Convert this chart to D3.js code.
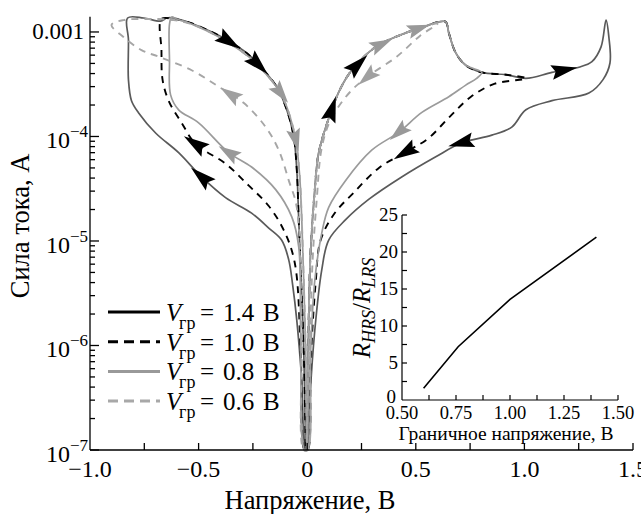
<!DOCTYPE html>
<html>
<head>
<meta charset="utf-8">
<script src="https://cdn.jsdelivr.net/npm/d3@7"></script>
<style>
  body { margin: 0; background: #fff; }
  svg { display: block; }
</style>
</head>
<body>
<svg id="chart" width="641" height="514" font-family="'Liberation Serif', Tinos, 'Times New Roman', 'DejaVu Serif', serif"></svg>
<script>
// ---- I–V data: [voltage, V ; current, A], in sweep order ----
// low-resistance branch for positive bias, common to every sweep
const lrsPos = [[0.001,1.0e-7],[0.007,1.75e-6],[0.016,8.2e-6],[0.035,3.1e-5],[0.053,7.0e-5],
  [0.113,1.8e-4],[0.154,2.9e-4],[0.205,4.3e-4],[0.316,7.2e-4],[0.454,9.8e-4],[0.537,1.12e-3]];
// reset region around 0.65 V
const resetPos = [[0.606,1.25e-3],[0.638,1.25e-3],[0.652,9.8e-4],[0.684,6.3e-4],[0.730,4.8e-4],[0.804,4.1e-4]];
const highPos = [[0.915,3.9e-4],[1.007,3.6e-4]];
// low-resistance return for negative bias, common to 1.4 V and 1.0 V sweeps
const lrsNeg = [[-0.431,9.8e-4],[-0.371,8.4e-4],[-0.279,6.3e-4],[-0.200,4.3e-4],[-0.141,3.0e-4],
  [-0.094,1.8e-4],[-0.062,9.9e-5],[-0.048,4.8e-5],[-0.039,1.6e-5],[-0.030,5.3e-6],[-0.016,9e-7],[-0.007,1e-7]];
const lrsNegInner = [[-0.523,1.17e-3],[-0.417,9.2e-4],[-0.270,5.8e-4],[-0.187,3.9e-4],[-0.122,2.6e-4],
  [-0.081,1.6e-4],[-0.053,9.3e-5],[-0.035,4.3e-5],[-0.025,1.6e-5],[-0.016,4.2e-6],[-0.007,9e-7],[-0.002,1e-7]];

// V_gr = 1.4 V
const loop14 = [].concat(lrsPos, resetPos, highPos,
  [[1.127,4.1e-4],[1.251,4.6e-4],[1.311,5.2e-4],[1.353,7.2e-4],[1.376,1.3e-3],[1.389,8.9e-4],
   [1.394,5.05e-4],[1.362,3.5e-4],[1.297,2.6e-4],[1.127,2.2e-4],[1.007,1.8e-4],[0.942,1.23e-4],
   [0.850,1.03e-4],[0.712,8.7e-5],[0.592,6.4e-5],[0.435,4.1e-5],[0.283,2.5e-5],[0.177,1.6e-5],
   [0.099,1.02e-5],[0.067,5.3e-6],[0.035,1.4e-6],[0.012,3e-7],[0.002,1e-7]],
  [[-0.007,1e-7],[-0.025,4.6e-7],[-0.048,1.75e-6],[-0.067,3.8e-6],[-0.085,6.6e-6],[-0.118,1.02e-5],
   [-0.177,1.33e-5],[-0.256,1.85e-5],[-0.376,2.6e-5],[-0.486,4.1e-5],[-0.592,7.0e-5],[-0.698,1.08e-4],
   [-0.776,1.68e-4],[-0.809,2.2e-4],[-0.823,3.5e-4],[-0.823,8.4e-4],[-0.827,1.36e-3],[-0.753,1.36e-3],
   [-0.675,1.27e-3],[-0.647,1.36e-3],[-0.615,1.36e-3],[-0.537,1.22e-3]],
  lrsNeg);

// V_gr = 1.0 V
const loop10 = [].concat(lrsPos, resetPos, highPos,
  [[0.864,3.2e-4],[0.754,2.4e-4],[0.657,1.55e-4],[0.555,9.5e-5],[0.454,7.1e-5],[0.330,5.0e-5],
   [0.214,2.9e-5],[0.127,1.85e-5],[0.062,1.02e-5],[0.039,4e-6],[0.016,7e-7],[0.002,1e-7]],
  [[-0.012,1e-7],[-0.030,9e-7],[-0.058,6.3e-6],[-0.108,1.27e-5],[-0.177,2.16e-5],[-0.270,3.4e-5],
   [-0.376,5.5e-5],[-0.514,8.5e-5],[-0.578,1.35e-4],[-0.638,2.2e-4],[-0.666,3.5e-4],[-0.671,6.7e-4],
   [-0.671,1.33e-3],[-0.615,1.33e-3],[-0.537,1.22e-3]],
  lrsNeg);

// V_gr = 0.8 V
const loop08 = [].concat(lrsPos, resetPos,
  [[0.780,3.6e-4],[0.730,3.1e-4],[0.652,2.4e-4],[0.528,1.7e-4],[0.422,1.1e-4],[0.297,7.4e-5],
   [0.177,3.8e-5],[0.099,2.1e-5],[0.067,1.19e-5],[0.035,4.2e-6],[0.016,9e-7],[0.002,1e-7]],
  [[-0.012,1e-7],[-0.030,1.4e-6],[-0.039,8.8e-6],[-0.071,1.7e-5],[-0.145,3.1e-5],[-0.256,5.1e-5],
   [-0.361,7.0e-5],[-0.500,1.35e-4],[-0.592,1.8e-4],[-0.629,2.5e-4],[-0.634,5.4e-4],[-0.634,1.19e-3],
   [-0.624,1.39e-3],[-0.601,1.33e-3]],
  lrsNegInner);

// V_gr = 0.6 V
const loop06 = [].concat(lrsPos,
  [[0.600,1.2e-3],[0.520,9.2e-4],[0.412,5.8e-4],[0.283,3.8e-4],[0.196,2.65e-4],[0.108,1.44e-4],
   [0.067,7.8e-5],[0.044,2.5e-5],[0.025,6.6e-6],[0.012,9e-7],[0.002,1e-7]],
  [[-0.016,1e-7],[-0.025,1.4e-6],[-0.048,2.1e-5],[-0.085,3.8e-5],[-0.131,7.4e-5],[-0.191,1.23e-4],
   [-0.293,2.1e-4],[-0.408,3.0e-4],[-0.532,4.3e-4],[-0.684,5.8e-4],[-0.763,6.7e-4],[-0.846,8.96e-4],
   [-0.901,1.17e-3],[-0.846,1.3e-3],[-0.730,1.33e-3],[-0.615,1.3e-3]],
  lrsNegInner);

// sweep-direction arrows: [loop, voltage, current]
const arrowMarks = [
  ["a",0.113,1.8e-4],["a",0.228,4.9e-4],["a",1.18,4.3e-4],["a",0.712,8.7e-5],
  ["a",-0.486,4.1e-5],["a",-0.362,8.2e-4],["a",-0.233,4.8e-4],
  ["b",0.454,7.1e-5],["b",-0.514,8.5e-5],
  ["c",0.343,7.4e-4],["c",0.514,1.05e-3],["c",0.422,1.1e-4],["c",-0.361,7.0e-5],
  ["c",-0.122,2.6e-4],["c",-0.053,9.3e-5],
  ["d",0.274,3.8e-4],["d",-0.35,2.6e-4]
];

const legendValues = ["1.4", "1.0", "0.8", "0.6"];

// axis ticks
const xTickValues = [-1.0, -0.5, 0, 0.5, 1.0, 1.5];
const xTickLabels = ["\u22121.0", "\u22120.5", "0", "0.5", "1.0", "1.5"];
const yDecades = [-7, -6, -5, -4, -3];

// inset: resistance ratio vs. boundary voltage
const insetV = [0.6, 0.76, 1.0, 1.4];
const insetRatio = [1.6, 7.2, 13.6, 22.0];
const insetXTicks = [0.5, 0.75, 1.0, 1.25, 1.5];
const insetXLabels = ["0.50", "0.75", "1.00", "1.25", "1.50"];
const insetYTicks = [0, 5, 10, 15, 20, 25];

// ---- drawing ----
const svg = d3.select("#chart");
const x = d3.scaleLinear().domain([-1.0, 1.5]).range([90, 633]);
const y = d3.scaleLog().domain([1e-7, 1.4e-3]).range([450, 16.7]);

const styles = {
  a: { stroke: "#5a5a5a", dash: null, width: 1.7, fill: "#000" },
  b: { stroke: "#000", dash: "7,6", width: 1.9, fill: "#000" },
  c: { stroke: "#9b9b9b", dash: null, width: 1.7, fill: "#999" },
  d: { stroke: "#a6a6a6", dash: "7,6", width: 1.9, fill: "#a0a0a0" }
};
const loopData = { a: loop14, b: loop10, c: loop08, d: loop06 };

const line = d3.line()
  .x(d => x(d[0]))
  .y(d => y(Math.max(d[1], 1e-7)))
  .curve(d3.curveCatmullRom.alpha(0.5));

const plot = svg.append("g");
["a", "b", "c", "d"].forEach(k => {
  const s = styles[k];
  plot.append("path")
    .attr("d", line(loopData[k]))
    .attr("fill", "none")
    .attr("stroke", s.stroke)
    .attr("stroke-width", s.width)
    .attr("stroke-linejoin", "round")
    .attr("stroke-dasharray", s.dash);
});

// arrows: placed on the nearest segment of their loop, pointing along the sweep
function arrowPose(pts, v, i) {
  const px = x(v), py = y(i);
  let best = null;
  for (let j = 0; j < pts.length - 1; j++) {
    const x1 = x(pts[j][0]), y1 = y(pts[j][1]);
    const x2 = x(pts[j + 1][0]), y2 = y(pts[j + 1][1]);
    const dx = x2 - x1, dy = y2 - y1;
    const L2 = dx * dx + dy * dy || 1;
    let t = ((px - x1) * dx + (py - y1) * dy) / L2;
    t = Math.max(0, Math.min(1, t));
    const qx = x1 + t * dx, qy = y1 + t * dy;
    const dist = (qx - px) ** 2 + (qy - py) ** 2;
    if (!best || dist < best.dist) best = { dist, qx, qy, ang: Math.atan2(dy, dx) * 180 / Math.PI };
  }
  return best;
}
arrowMarks.forEach(([k, v, i]) => {
  const p = arrowPose(loopData[k], v, i);
  const big = (k === "a" || k === "b");
  const shape = big ? "M14,0 L-12,-7.5 L-8,0 L-12,7.5 Z" : "M12,0 L-11,-7 L-7,0 L-11,7 Z";
  plot.append("path")
    .attr("d", shape)
    .attr("fill", styles[k].fill)
    .attr("transform", `translate(${p.qx},${p.qy}) rotate(${p.ang})`);
});

// main axes
const axes = svg.append("g").attr("stroke", "#000").attr("stroke-width", 1.3);
axes.append("line").attr("x1", x(-1.0)).attr("x2", x(1.5)).attr("y1", y(1e-7)).attr("y2", y(1e-7));
axes.append("line").attr("x1", x(-1.0)).attr("x2", x(-1.0)).attr("y1", y(1e-7)).attr("y2", y(1.4e-3));

d3.range(-0.75, 1.51, 0.25).forEach(v => {
  axes.append("line").attr("x1", x(v)).attr("x2", x(v)).attr("y1", y(1e-7)).attr("y2", y(1e-7) - 7);
});
yDecades.forEach(e => {
  const base = Math.pow(10, e);
  axes.append("line").attr("x1", x(-1)).attr("x2", x(-1) + 9).attr("y1", y(base)).attr("y2", y(base));
  for (let m = 2; m <= 9; m++) {
    const val = m * base;
    if (val <= 1.4e-3) {
      axes.append("line").attr("x1", x(-1)).attr("x2", x(-1) + 5).attr("y1", y(val)).attr("y2", y(val));
    }
  }
});

const labels = svg.append("g");
xTickValues.forEach((v, k) => {
  labels.append("text").attr("x", x(v)).attr("y", 477).attr("text-anchor", "middle")
    .attr("font-size", 24).text(xTickLabels[k]);
});
yDecades.forEach(e => {
  const ty = y(Math.pow(10, e));
  if (e === -3) {
    labels.append("text").attr("x", 84).attr("y", ty + 7).attr("text-anchor", "end")
      .attr("font-size", 23).text("0.001");
  } else {
    const t = labels.append("text").attr("x", 88).attr("y", ty + 12).attr("text-anchor", "end")
      .attr("font-size", 24);
    t.append("tspan").text("10");
    t.append("tspan").attr("font-size", 17).attr("dy", -11).text("\u2212" + (-e));
  }
});
labels.append("text").attr("x", 310).attr("y", 509).attr("text-anchor", "middle")
  .attr("font-size", 26.5).text("Напряжение, В");
labels.append("text").attr("transform", "translate(29,226) rotate(-90)").attr("text-anchor", "middle")
  .attr("font-size", 26.5).text("Сила тока, А");

// legend
const legend = svg.append("g");
["a", "b", "c", "d"].forEach((k, r) => {
  const ly = 312 + r * 29.7;
  const s = styles[k];
  legend.append("line").attr("x1", 108).attr("x2", 160).attr("y1", ly).attr("y2", ly)
    .attr("stroke", k === "a" || k === "b" ? "#000" : k === "c" ? "#999" : "#a8a8a8")
    .attr("stroke-width", 3)
    .attr("stroke-dasharray", s.dash ? "10,6" : null);
  const t = legend.append("text").attr("y", ly + 9).attr("font-size", 25);
  t.append("tspan").attr("x", 166).attr("font-style", "italic").text("V");
  t.append("tspan").attr("x", 179).attr("dy", 8).attr("font-size", 18).text("гр");
  t.append("tspan").attr("x", 200).attr("dy", -8).text("=");
  t.append("tspan").attr("x", 223).text(legendValues[r]);
  t.append("tspan").attr("x", 263).text("В");
});

// inset
const ix = d3.scaleLinear().domain([0.5, 1.5]).range([402, 618]);
const iy = d3.scaleLinear().domain([0, 25]).range([400, 215]);
const inset = svg.append("g");
const ia = inset.append("g").attr("stroke", "#000").attr("stroke-width", 1.2);
ia.append("line").attr("x1", ix(0.5)).attr("x2", ix(1.5)).attr("y1", iy(0)).attr("y2", iy(0));
ia.append("line").attr("x1", ix(0.5)).attr("x2", ix(0.5)).attr("y1", iy(0)).attr("y2", iy(25));
d3.range(0.625, 1.51, 0.125).forEach(v => {
  ia.append("line").attr("x1", ix(v)).attr("x2", ix(v)).attr("y1", iy(0)).attr("y2", iy(0) - 5);
});
d3.range(2.5, 25.1, 2.5).forEach(v => {
  ia.append("line").attr("x1", ix(0.5)).attr("x2", ix(0.5) + 5).attr("y1", iy(v)).attr("y2", iy(v));
});
insetXTicks.forEach((v, k) => {
  inset.append("text").attr("x", ix(v)).attr("y", 419).attr("text-anchor", "middle")
    .attr("font-size", 18.5).text(insetXLabels[k]);
});
insetYTicks.forEach(v => {
  inset.append("text").attr("x", v === 0 ? 396 : 398).attr("y", iy(v) + (v === 0 ? 3 : 5.5))
    .attr("text-anchor", "end").attr("font-size", 19).text(v);
});
inset.append("text").attr("x", 506).attr("y", 440).attr("text-anchor", "middle")
  .attr("font-size", 19.5).text("Граничное напряжение, В");
const yl = inset.append("text").attr("transform", "translate(370,308) rotate(-90)")
  .attr("text-anchor", "middle").attr("font-size", 25);
yl.append("tspan").attr("font-style", "italic").text("R");
yl.append("tspan").attr("font-style", "italic").attr("font-size", 18).attr("dy", 5).text("HRS");
yl.append("tspan").attr("dy", -5).text("/");
yl.append("tspan").attr("font-style", "italic").text("R");
yl.append("tspan").attr("font-style", "italic").attr("font-size", 18).attr("dy", 5).text("LRS");

inset.append("path")
  .attr("d", d3.line().x(d => ix(d)).y((d, k) => iy(insetRatio[k]))(insetV))
  .attr("fill", "none").attr("stroke", "#000").attr("stroke-width", 1.6);
</script>
</body>
</html>
